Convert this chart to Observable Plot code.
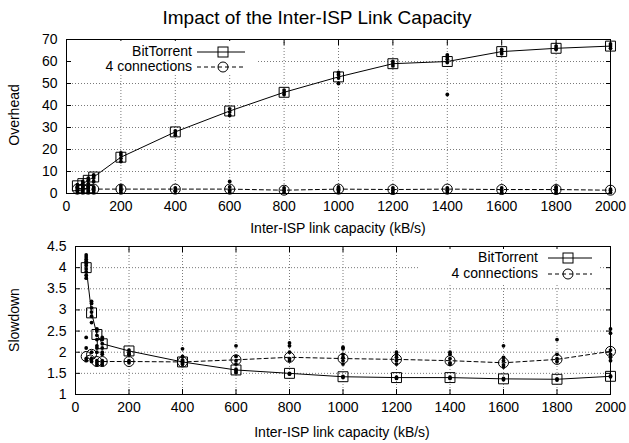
<!DOCTYPE html>
<html><head><meta charset="utf-8">
<script src="https://cdn.jsdelivr.net/npm/d3@7"></script>
<script src="https://cdn.jsdelivr.net/npm/@observablehq/plot@0.6"></script>
<style>
body{margin:0;background:#fff;font-family:"Liberation Sans",Arial,Helvetica,sans-serif;color:#000}
#wrap{position:relative;width:629px;height:443px;overflow:hidden;background:#fff}
.abs{position:absolute;white-space:nowrap}
</style></head><body><div id="wrap"></div>
<script>
// ---- data ----
const capacity = [40, 60, 80, 100, 200, 400, 600, 800, 1000, 1200, 1400, 1600, 1800, 2000];
const xTicks = [0, 200, 400, 600, 800, 1000, 1200, 1400, 1600, 1800, 2000];
const overheadTicks = [0, 10, 20, 30, 40, 50, 60, 70];
const slowdownTicks = [1, 1.5, 2, 2.5, 3, 3.5, 4, 4.5];

const overheadBT   = [3.5, 4.5, 6, 7.5, 16.5, 28, 37.5, 46, 53, 59, 60, 64.5, 66, 67];
const overheadConn = [2, 2, 2, 2, 2, 2, 2, 1.5, 2, 1.8, 2, 1.8, 1.8, 1.5];
const slowdownBT   = [4.0, 2.93, 2.42, 2.2, 2.03, 1.77, 1.58, 1.5, 1.42, 1.4, 1.4, 1.37, 1.36, 1.43];
const slowdownConn = [1.9, 1.95, 1.78, 1.78, 1.78, 1.77, 1.82, 1.88, 1.85, 1.83, 1.8, 1.75, 1.83, 2.02];

const overheadBTRuns = [
  [1.5, 2.5, 3, 4], [2, 3.5, 4.5, 5.5], [3, 4.5, 6, 7], [5.5, 7, 8, 8.5],
  [14.5, 16, 17.5, 18.5], [26.5, 27.5, 28.5], [35.5, 37, 38.5], [45, 46, 47],
  [50, 52.5, 54, 55], [58, 59, 60], [45, 59.5, 61, 62, 63], [63.5, 64.5, 65.5],
  [65.5, 66, 67], [66, 67, 68]
];
const overheadConnRuns = [
  [0.5, 1.5, 2.5, 3], [0.5, 1.5, 2.5, 3], [0.5, 1.5, 2.5, 3], [0.5, 1.5, 2.5, 3],
  [0.5, 1.5, 2.5, 3.5], [1, 1.5, 2.5], [0.5, 1.5, 3, 5.5], [0.5, 1.5, 2.5],
  [0.5, 1.5, 2.5, 3], [0.5, 1.5, 2.5], [0.5, 1.5, 2.5], [0.5, 1.5, 2.5],
  [0.5, 1.5, 2.5, 3], [0.5, 1.5, 2]
];
const slowdownBTRuns = [
  [3.75, 3.82, 3.9, 3.97, 4.05, 4.1, 4.15, 4.2, 4.25, 4.3],
  [2.7, 2.85, 2.95, 3.05, 3.15, 3.2], [2.15, 2.3, 2.4, 2.5, 2.55], [2.0, 2.1, 2.2, 2.3, 2.35],
  [1.95, 2.0, 2.05], [1.72, 1.77, 1.82], [1.52, 1.56, 1.6], [1.48, 1.5],
  [1.4, 1.43], [1.38, 1.41], [1.38, 1.41], [1.35, 1.38], [1.34, 1.37], [1.42, 1.44]
];
const slowdownConnRuns = [
  [1.8, 1.85, 2.1, 2.35], [1.78, 1.85, 2.0], [1.7, 1.75, 1.8, 2.0, 2.1], [1.7, 1.75, 1.8, 1.95],
  [1.75, 1.8, 1.95], [1.72, 1.8, 1.9, 2.08], [1.72, 1.8, 1.9, 2.15], [1.8, 1.85, 2.0, 2.15, 2.22],
  [1.72, 1.8, 1.88, 1.95, 2.08, 2.12], [1.72, 1.8, 1.88, 1.95, 2.0], [1.72, 1.75, 1.85, 1.95, 2.0],
  [1.65, 1.7, 1.8, 1.88, 2.15], [1.78, 1.85, 1.95, 2.3], [1.8, 1.88, 1.95, 2.05, 2.45, 2.55]
];

const seriesNames = ["BitTorrent", "4 connections"];
const titleText = "Impact of the Inter-ISP Link Capacity";
const xLabel = "Inter-ISP link capacity (kB/s)";

// ---- helpers ----
const toRows = vals => capacity.map((x, i) => ({x, y: vals[i]}));
const toRuns = runs => capacity.flatMap((x, i) => runs[i].map(y => ({x, y})));
const FONT = "'Liberation Sans', Arial, Helvetica, sans-serif";
const wrap = document.getElementById("wrap");

function panel({yDomain, yTicks, bt, conn, btRuns, connRuns, height, mt, mb, ml, mr}) {
  const grid = {stroke: "#7a7a7a", strokeOpacity: 1, strokeDasharray: "1,2", strokeWidth: 1};
  return Plot.plot({
    width: 629, height, marginTop: mt, marginBottom: mb, marginLeft: ml, marginRight: mr,
    style: {fontFamily: FONT, fontSize: "14px", color: "black", background: "transparent", overflow: "visible"},
    x: {domain: [0, 2000]},
    y: {domain: yDomain},
    marks: [
      Plot.gridX(xTicks.slice(1, -1), grid),
      Plot.gridY(yTicks.slice(1, -1), grid),
      Plot.axisX(xTicks, {anchor: "bottom", tickSize: -5, tickPadding: 13, label: null, tickFormat: d => String(d), fontSize: 14}),
      Plot.axisX(xTicks, {anchor: "top", tickSize: -5, label: null, tickFormat: () => ""}),
      Plot.axisY(yTicks, {anchor: "left", tickSize: -5, tickPadding: 14, label: null, tickFormat: d => String(d), fontSize: 14}),
      Plot.axisY(yTicks, {anchor: "right", tickSize: -5, label: null, tickFormat: () => ""}),
      Plot.dot(toRuns(btRuns), {x: "x", y: "y", r: 1.9, fill: "black"}),
      Plot.dot(toRuns(connRuns), {x: "x", y: "y", r: 1.9, fill: "black"}),
      Plot.line(toRows(bt), {x: "x", y: "y", stroke: "black", strokeWidth: 1}),
      Plot.line(toRows(conn), {x: "x", y: "y", stroke: "black", strokeWidth: 1, strokeDasharray: "4,3"}),
      Plot.dot(toRows(bt), {x: "x", y: "y", symbol: "square", r: 5.6, stroke: "black", fill: "none", strokeWidth: 1}),
      Plot.dot(toRows(conn), {x: "x", y: "y", symbol: "circle", r: 5, stroke: "black", fill: "none", strokeWidth: 1}),
      Plot.frame({stroke: "black", strokeWidth: 1})
    ]
  });
}

function place(el, left, top) {
  el.style.position = "absolute"; el.style.left = left + "px"; el.style.top = top + "px";
  wrap.appendChild(el);
}
function label(text, cx, cy, size, rotate) {
  const d = document.createElement("div");
  d.className = "abs";
  d.textContent = text;
  d.style.fontSize = size + "px";
  d.style.lineHeight = "1";
  d.style.left = cx + "px"; d.style.top = cy + "px";
  d.style.transform = `translate(-50%,-50%)` + (rotate ? ` rotate(${rotate}deg)` : "");
  wrap.appendChild(d);
}
function legend(left, top, width, height, textRight, lineX1, lineX2, markX, row1, row2) {
  const ns = "http://www.w3.org/2000/svg";
  const d = document.createElement("div");
  d.style.width = width + "px"; d.style.height = height + "px"; d.style.background = "#fff";
  d.style.fontFamily = FONT; d.style.fontSize = "14px";
  place(d, left, top);
  [row1, row2].forEach((ry, i) => {
    const t = document.createElement("div");
    t.className = "abs"; t.textContent = seriesNames[i]; t.style.lineHeight = "1";
    t.style.right = (width - textRight) + "px"; t.style.top = (ry - 8) + "px";
    d.appendChild(t);
  });
  const svg = document.createElementNS(ns, "svg");
  svg.setAttribute("width", width); svg.setAttribute("height", height);
  svg.style.position = "absolute"; svg.style.left = "0"; svg.style.top = "0";
  const mk = (tag, attrs) => { const e = document.createElementNS(ns, tag); for (const k in attrs) e.setAttribute(k, attrs[k]); svg.appendChild(e); };
  mk("line", {x1: lineX1, x2: lineX2, y1: row1, y2: row1, stroke: "black", "stroke-width": 1});
  mk("rect", {x: markX - 5, y: row1 - 5, width: 10, height: 10, fill: "none", stroke: "black"});
  mk("line", {x1: lineX1, x2: lineX2, y1: row2, y2: row2, stroke: "black", "stroke-width": 1, "stroke-dasharray": "4,3"});
  mk("circle", {cx: markX, cy: row2, r: 5, fill: "none", stroke: "black"});
  d.appendChild(svg);
}

// ---- build ----
label(titleText, 317, 17, 19);

const topPlot = panel({yDomain: [0, 70], yTicks: overheadTicks, bt: overheadBT, conn: overheadConn,
  btRuns: overheadBTRuns, connRuns: overheadConnRuns, height: 205, mt: 9, mb: 42, ml: 66, mr: 19});
place(topPlot, 0, 30);
const botPlot = panel({yDomain: [1, 4.5], yTicks: slowdownTicks, bt: slowdownBT, conn: slowdownConn,
  btRuns: slowdownBTRuns, connRuns: slowdownConnRuns, height: 208, mt: 11, mb: 49, ml: 75, mr: 19});
place(botPlot, 0, 235);

label(xLabel, 338, 228, 14);
label(xLabel, 342, 432, 14);
label("Overhead", 14, 115, 14, -90);
label("Slowdown", 14, 320, 14, -90);

legend(72, 41, 185, 33, 120, 125, 173, 151, 11, 26);
legend(420, 249, 180, 34, 118, 128, 172, 148, 9, 25);
</script></body></html>
